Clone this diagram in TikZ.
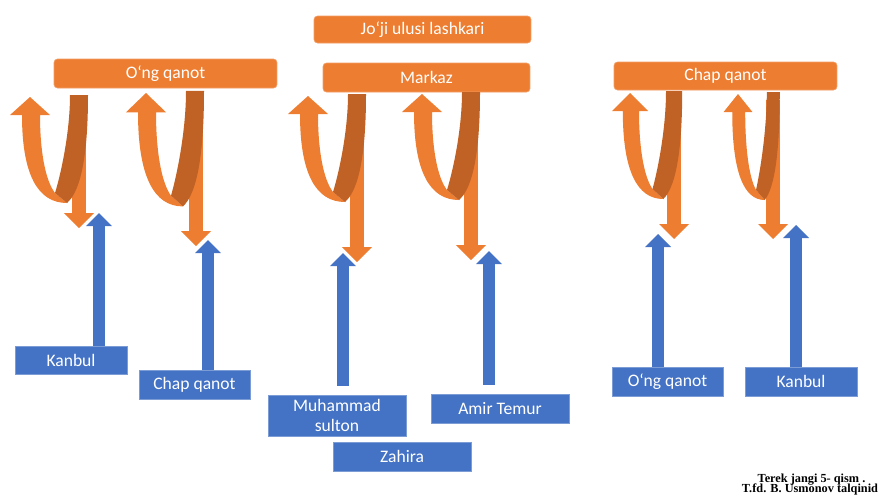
\documentclass[tikz,border=0pt]{standalone}
\usepackage{fontspec}
\setmainfont{Carlito}
\newfontfamily\notefont{Liberation Serif}
\usepackage{tikz}
\usetikzlibrary{arrows.meta}
\definecolor{armyorange}{RGB}{237, 125, 49}
\definecolor{armyshade} {RGB}{192,  98, 38}
\definecolor{armyblue}  {RGB}{68,  114, 196}

\begin{document}
\begin{tikzpicture}[x=0.02cm, y=-0.02cm, every node/.style={text=white, font=\fontsize{10}{11}\selectfont, align=center, inner sep=0pt},
        orangebox/.style={fill=armyorange, draw=armyorange!75!white, rounded corners=2pt, minimum height=0.58cm},
        bluebox/.style={fill=armyblue, draw=armyblue!70!white, minimum height=0.58cm},
        downarrow/.style={armyorange, line width=0.28cm, -{Triangle[width=0.6cm, length=0.3cm, line width=0pt]}, shorten <=0.2cm},
        uparrow/.style={armyblue, line width=0.24cm, -{Triangle[width=0.52cm, length=0.26cm, line width=0pt]}},
        uturn/.pic={
            \fill[armyorange] (-8,18) .. controls (-8,78) and (8,106) .. (37,106) -- (25,96)
                .. controls (15,83) and (10,53) .. (10,18) -- (20,18) -- (0,0) -- (-20,18) -- cycle;
            \fill[armyshade] (40,-2) -- (58,-2) .. controls (58,53) and (52,93) .. (37,106) -- (25,96)
                .. controls (32,73) and (40,33) .. (40,-2) -- cycle;
        }]
        \useasboundingbox (0,0) rectangle (881,495);

        \node[orangebox, minimum width=4.34cm, minimum height=0.54cm] (lashkar) at (422.5,29.5) {Jo‘ji ulusi lashkari};
        \node[orangebox, minimum width=4.46cm] (ongqanot) at (165.5,73.5) {O‘ng qanot};
        \node[orangebox, minimum width=4.14cm] (markaz) at (426.5,77.5) {Markaz};
        \node[orangebox, minimum width=4.46cm, minimum height=0.56cm] (chapqanot) at (725.5,76) {Chap qanot};

        \node[bluebox, minimum width=2.24cm, minimum height=0.56cm] (kanbulL) at (71,360) {Kanbul};
        \node[bluebox, minimum width=2.22cm] (chapL) at (194.5,384.5) {Chap qanot};
        \node[bluebox, minimum width=2.76cm, minimum height=0.82cm] (muhammad) at (337,415.5) {Muhammad\\sulton};
        \node[bluebox, minimum width=2.76cm] (zahira) at (402,456.5) {Zahira};
        \node[bluebox, minimum width=2.76cm] (amir) at (500,408.5) {Amir Temur};
        \node[bluebox, minimum width=2.22cm] (ongR) at (667.5,381.5) {O‘ng qanot};
        \node[bluebox, minimum width=2.24cm] (kanbulR) at (801,381.5) {Kanbul};

        \coordinate (d1) at (79,228);
        \coordinate (d2) at (196,246);
        \coordinate (d3) at (357,262);
        \coordinate (d4) at (471,260);
        \coordinate (d5) at (674,239);
        \coordinate (d6) at (773,239);
        \draw[downarrow] (ongqanot.south -| d1) -- (d1);
        \draw[downarrow] (ongqanot.south -| d2) -- (d2);
        \draw[downarrow] (markaz.south -| d3) -- (d3);
        \draw[downarrow] (markaz.south -| d4) -- (d4);
        \draw[downarrow] (chapqanot.south -| d5) -- (d5);
        \draw[downarrow] (chapqanot.south -| d6) -- (d6);

        \foreach \ux/\uy/\usx/\usy in {30/97/1/1, 146/93/1/1.07, 308/96/1/1, 422/94/1/1, 630/93/0.9/1, 738/94/0.72/1}
            \pic[xscale=\usx, yscale=\usy] at (\ux,\uy) {uturn};

        \coordinate (b1) at (99,213);
        \coordinate (b2) at (208,240);
        \coordinate (b3) at (343,253);
        \coordinate (b4) at (489,251);
        \coordinate (b5) at (658,234);
        \coordinate (b6) at (796,225);
        \draw[uparrow] (kanbulL.north -| b1) -- (b1);
        \draw[uparrow] (chapL.north -| b2) -- (b2);
        \draw[uparrow, shorten <=0.18cm] (muhammad.north -| b3) -- (b3);
        \draw[uparrow, shorten <=0.18cm] (amir.north -| b4) -- (b4);
        \draw[uparrow] (ongR.north -| b5) -- (b5);
        \draw[uparrow] (kanbulR.north -| b6) -- (b6);

        \node[text=black, font=\notefont\fontsize{7}{8}\selectfont\bfseries, anchor=base] (terek) at (811.5,482) {Terek jangi 5- qism .};
        \node[text=black, font=\notefont\fontsize{7}{8}\selectfont\bfseries, anchor=base] (usmonov) at (810,492) {T.fd. B. Usmonov talqinid};
\end{tikzpicture}
\end{document}
